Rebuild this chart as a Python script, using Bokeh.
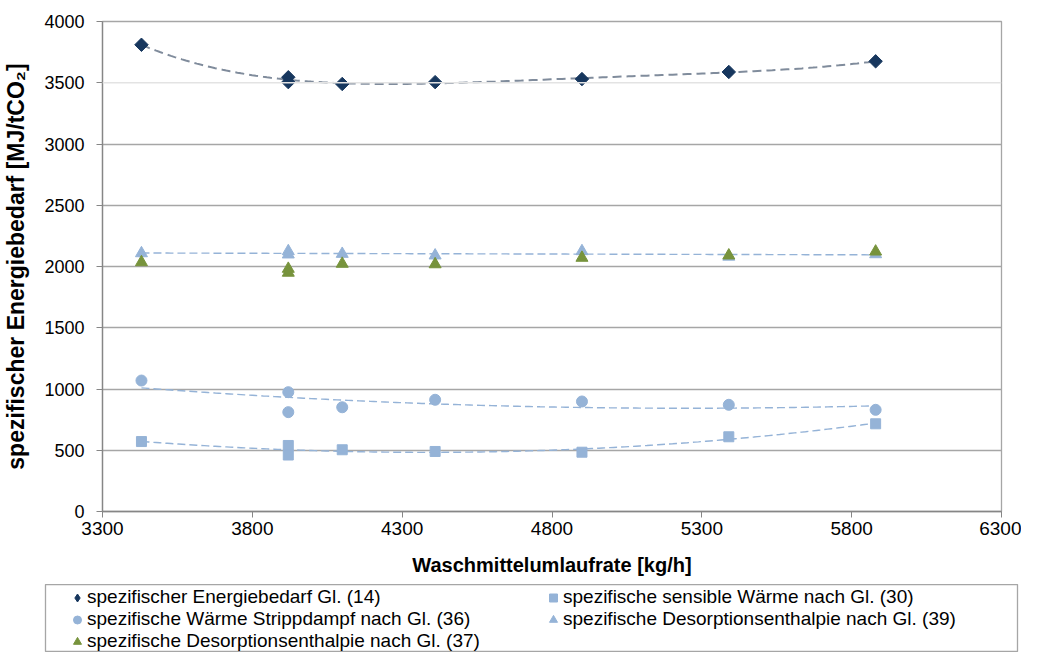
import numpy as np
from bokeh.plotting import figure
from bokeh.models import Range1d, FixedTicker, Legend, LegendItem, Span, ColumnDataSource
from bokeh.embed import file_html
from bokeh.resources import INLINE

# ---------------- data ----------------
flow = [3430, 3920, 3920, 4100, 4410, 4900, 5390, 5880]          # Waschmittelumlaufrate [kg/h]
energy_14 = [3810, 3545, 3505, 3490, 3505, 3530, 3588, 3675]      # spezifischer Energiebedarf Gl. (14)
sensible_30 = [571, 539, 461, 504, 490, 484, 610, 716]            # sensible Wärme Gl. (30)
steam_36 = [1069, 974, 811, 851, 912, 898, 871, 830]              # Wärme Strippdampf Gl. (36)
desorp_39 = [2108, 2125, 2098, 2103, 2090, 2125, 2080, 2100]      # Desorptionsenthalpie Gl. (39)
desorp_37 = [2035, 1981, 1949, 2022, 2018, 2071, 2090, 2122]      # Desorptionsenthalpie Gl. (37)

labels = [
    "spezifischer Energiebedarf Gl. (14)",
    "spezifische sensible Wärme nach Gl. (30)",
    "spezifische Wärme Strippdampf nach Gl. (36)",
    "spezifische Desorptionsenthalpie nach Gl. (39)",
    "spezifische Desorptionsenthalpie nach Gl. (37)",
]

x_ticks = [3300, 3800, 4300, 4800, 5300, 5800, 6300]
y_ticks = [0, 500, 1000, 1500, 2000, 2500, 3000, 3500, 4000]

FONT = "Liberation Sans"
NAVY = "#17375E"
LIGHT = "#95B3D7"
GREEN = "#77933C"
TREND_DARK = "#808C9C"

# ---------------- main chart ----------------
p = figure(width=1021, height=584,
           x_range=Range1d(3300, 6300), y_range=Range1d(0, 4000),
           output_backend="svg", toolbar_location=None,
           min_border_left=93, min_border_right=20, min_border_top=21, min_border_bottom=73)
p.background_fill_color = "white"
p.border_fill_color = "white"
p.outline_line_color = "#A6A6A6"
p.outline_line_width = 1.3

p.xgrid.visible = False
p.ygrid.ticker = FixedTicker(ticks=[t for t in y_ticks if t != 3500])
p.ygrid.grid_line_color = "#A6A6A6"
p.ygrid.grid_line_width = 1.3
p.add_layout(Span(location=3500, dimension="width", line_color="#E3E3E3", line_width=1.3))

p.xaxis.ticker = FixedTicker(ticks=x_ticks)
p.yaxis.ticker = FixedTicker(ticks=y_ticks)
for ax in (p.xaxis[0], p.yaxis[0]):
    ax.axis_line_color = "#868686"
    ax.axis_line_width = 1.3
    ax.major_tick_line_color = "#868686"
    ax.major_tick_out = 6
    ax.major_tick_in = 0
    ax.minor_tick_line_color = None
    ax.major_label_text_font = FONT
    ax.major_label_text_color = "black"
    ax.axis_label_text_font = FONT
    ax.axis_label_text_font_style = "bold"
    ax.axis_label_text_color = "black"

p.xaxis.major_label_text_font_size = "19px"
p.yaxis.major_label_text_font_size = "18px"
p.xaxis.axis_label = "Waschmittelumlaufrate [kg/h]"
p.xaxis.axis_label_text_font_size = "20px"
p.xaxis.major_label_standoff = 4
p.xaxis.axis_label_standoff = 16
p.yaxis.axis_label = "spezifischer Energiebedarf [MJ/tCO₂]"
p.yaxis.axis_label_text_font_size = "23px"
p.yaxis.major_label_standoff = 12
p.yaxis.axis_label_standoff = 12

# trendlines (least squares fits of the series, like the spreadsheet trendlines)
xs_fit = np.linspace(min(flow), max(flow), 200)
def trend(vals, deg):
    c = np.polyfit(np.array(flow, float) / 1000.0, np.array(vals, float), deg)
    return np.polyval(c, xs_fit / 1000.0)

p.line(xs_fit, trend(energy_14, 4), line_color=TREND_DARK, line_width=2, line_dash="9 5")
p.line(xs_fit, trend(sensible_30, 3), line_color=LIGHT, line_width=1.4, line_dash="8 4")
p.line(xs_fit, trend(steam_36, 2), line_color=LIGHT, line_width=1.4, line_dash="8 4")
p.line(xs_fit, trend(desorp_39, 1), line_color=LIGHT, line_width=1.4, line_dash="8 4")

src = ColumnDataSource(dict(x=flow, e14=energy_14, s30=sensible_30, w36=steam_36,
                            d39=desorp_39, d37=desorp_37))
styles = [
    dict(y="e14", marker="square", key="diamond", angle=np.pi / 4, size=9.5, color=NAVY),
    dict(y="s30", marker="square", key="square", angle=0, size=10, color=LIGHT),
    dict(y="w36", marker="circle", key="circle", angle=0, size=11, color=LIGHT),
    dict(y="d39", marker="triangle", key="triangle", angle=0, size=12, color=LIGHT),
    dict(y="d37", marker="triangle", key="triangle", angle=0, size=12, color=GREEN),
]
for s in styles:
    p.scatter("x", s["y"], source=src, marker=s["marker"], angle=s["angle"], size=s["size"],
              fill_color=s["color"], line_color=s["color"])

# ---------------- legend box (its own strip, laid out independently) ----------------
lf = figure(width=1021, height=68, x_range=Range1d(0, 1), y_range=Range1d(0, 1),
            x_axis_type=None, y_axis_type=None, output_backend="svg", toolbar_location=None,
            min_border_left=45, min_border_right=4, min_border_top=0, min_border_bottom=0)
lf.outline_line_color = "#A6A6A6"
lf.outline_line_width = 1.3
lf.grid.visible = False
lf.background_fill_color = "white"
lf.border_fill_color = "white"

# same series in the strip's own (off-range) coordinates, so that only the legend keys show
keys = [lf.scatter("x", s["y"], source=src, marker=s["key"],
                   fill_color=s["color"], line_color=s["color"]) for s in styles]

legend = Legend(items=[LegendItem(label=l, renderers=[r]) for l, r in zip(labels, keys)],
                location=(22, 0), orientation="horizontal", ncols=2,
                glyph_width=20, glyph_height=21, label_height=21, label_width=456,
                label_standoff=0, spacing=0, padding=0, margin=0,
                border_line_alpha=0, background_fill_alpha=0,
                label_text_font=FONT, label_text_font_size="19px", label_text_color="black")
lf.add_layout(legend, "center")

open("out.html", "w").write(file_html([p, lf], INLINE))
